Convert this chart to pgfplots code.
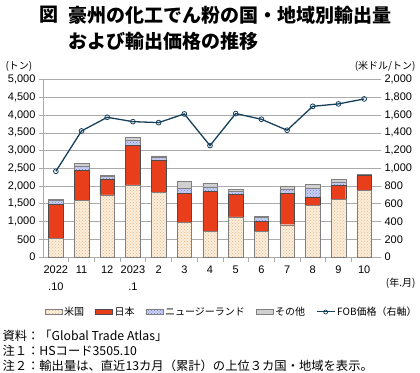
\documentclass[border=0pt]{standalone}
\usepackage{fontspec}
\setmainfont{Liberation Sans}
\newfontfamily\jp{Noto Sans CJK JP}
\usepackage{pgfplots}
\pgfplotsset{compat=1.18}
\usetikzlibrary{patterns}
\definecolor{usbg}{RGB}{250,238,220}
\definecolor{usdot}{RGB}{236,185,135}
\definecolor{jpred}{RGB}{232,62,28}
\definecolor{nzbg}{RGB}{200,206,240}
\definecolor{nzdot}{RGB}{120,135,215}
\definecolor{othg}{RGB}{208,208,208}
\definecolor{fob}{RGB}{22,64,92}
\definecolor{gridg}{RGB}{170,170,170}
\pgfplotsset{
 mybarleg/.style={legend image code/.code={\draw[##1] (0pt,-2.5pt) rectangle (17pt,2.5pt);}},
 fobleg/.style={legend image code/.code={\draw[##1, mark=none] (0pt,0pt) -- (18pt,0pt); \draw[##1, only marks] plot coordinates {(9pt,0pt)};}},
}
\begin{document}
\begin{tikzpicture}[x=1pt,y=1pt]
\useasboundingbox (0,0) rectangle (420,372);
% titles
\node[anchor=west,font={\jp\bfseries\fontsize{19}{21}\selectfont}] at (36,357) {図};
\node[anchor=west,font={\jp\bfseries\fontsize{19}{21}\selectfont}] at (65,357) {豪州の化工でん粉の国・地域別輸出量};
\node[anchor=west,font={\jp\bfseries\fontsize{19}{21}\selectfont}] at (65,331) {および輸出価格の推移};
\node[anchor=west,font={\jp\fontsize{10}{12}\selectfont}] at (2,306) {(トン)};
\node[anchor=east,font={\jp\fontsize{10}{12}\selectfont}] at (419,306) {(米ドル/トン)};
\node[anchor=east,font={\jp\fontsize{10}{12}\selectfont}] at (419,89) {(年.月)};
% notes
\node[anchor=west,font={\jp\fontsize{12.3}{14}\selectfont}] at (-1,36) {資料：「Global Trade Atlas」};
\node[anchor=west,font={\jp\fontsize{12.3}{14}\selectfont}] at (-1,21) {注１：HSコード3505.10};
\node[anchor=west,font={\jp\fontsize{12.3}{14}\selectfont}] at (-1,6) {注２：輸出量は、直近13カ月（累計）の上位３カ国・地域を表示。};
\begin{axis}[
 at={(43pt,115pt)}, anchor=south west, scale only axis,
 width=334pt, height=177.4pt,
 ybar stacked, bar width=14.5pt,
 xmin=-0.5, xmax=12.5, ymin=0, ymax=5000,
 ytick={0,500,...,5000},
 xtick={0,...,12},
 xticklabels={2022\\.10,11,12,2023\\.1,2,3,4,5,6,7,8,9,10},
 minor x tick num=1,
 major x tick style={draw=none},
 minor tick length=5pt, major tick length=4pt,
 tick align=outside,
 axis x line*=bottom, axis y line*=left,
 axis line style={gridg, line width=0.6pt},
 tick style={gridg, line width=0.6pt},
 ymajorgrids, grid style={gridg, line width=0.6pt},
 /pgf/number format/1000 sep={,},
 /pgf/number format/assume math mode=true,
 ticklabel style={font=\fontsize{11}{17}\selectfont},
 xticklabel style={align=center, yshift=-1pt},
 legend style={at={(0.565,-0.31)}, anchor=center, draw=none, fill=none,
   font={\jp\fontsize{10}{12}\selectfont}, legend columns=5,
   /tikz/every even column/.append style={column sep=9pt}},
 legend cell align=left,
 clip=false,
]
\addplot+[ybar, fill=usbg, draw=gray, line width=0.4pt, postaction={pattern=crosshatch dots, pattern color=usdot}, mybarleg] coordinates {
(0,530) (1,1600) (2,1750) (3,2030) (4,1820) (5,980) (6,730) (7,1130) (8,720) (9,910) (10,1460) (11,1630) (12,1880)};
\addplot+[ybar, fill=jpred, draw=gray!60!black, line width=0.4pt, mybarleg] coordinates {
(0,950) (1,840) (2,440) (3,1110) (4,900) (5,810) (6,1120) (7,640) (8,285) (9,875) (10,215) (11,390) (12,420)};
\addplot+[ybar, fill=nzbg, draw=gray, line width=0.4pt, postaction={pattern=crosshatch dots, pattern color=nzdot}, mybarleg] coordinates {
(0,120) (1,110) (2,90) (3,150) (4,90) (5,140) (6,130) (7,90) (8,110) (9,115) (10,255) (11,100) (12,20)};
\addplot+[ybar, fill=othg, draw=gray, line width=0.4pt, mybarleg] coordinates {
(0,20) (1,90) (2,30) (3,80) (4,40) (5,200) (6,110) (7,40) (8,30) (9,90) (10,120) (11,60) (12,10)};
\addlegendimage{color=fob, line width=1pt, mark=o, mark size=2pt, mark options={fill=white, line width=0.7pt, solid}, fobleg}
\legend{米国,日本,ニュージーランド,その他,FOB価格（右軸）}
\end{axis}
\begin{axis}[
 at={(43pt,115pt)}, anchor=south west, scale only axis,
 width=334pt, height=177.4pt,
 xmin=-0.5, xmax=12.5, ymin=0, ymax=2000,
 ytick={0,200,...,2000},
 axis x line=none, axis y line*=right,
 axis line style={draw=none},
 tick style={gridg, line width=0.6pt}, tick align=outside, major tick length=4pt,
 /pgf/number format/1000 sep={,},
 /pgf/number format/assume math mode=true,
 ticklabel style={font=\fontsize{11}{13}\selectfont},
 clip=false,
]
\addplot[color=fob, line width=1.3pt, mark=o, mark size=2.4pt, mark options={fill=white, line width=0.8pt}] coordinates {
(0,966) (1,1421) (2,1575) (3,1526) (4,1515) (5,1613) (6,1256) (7,1617) (8,1553) (9,1429) (10,1699) (11,1726) (12,1782)};
\end{axis}
\end{tikzpicture}
\end{document}
